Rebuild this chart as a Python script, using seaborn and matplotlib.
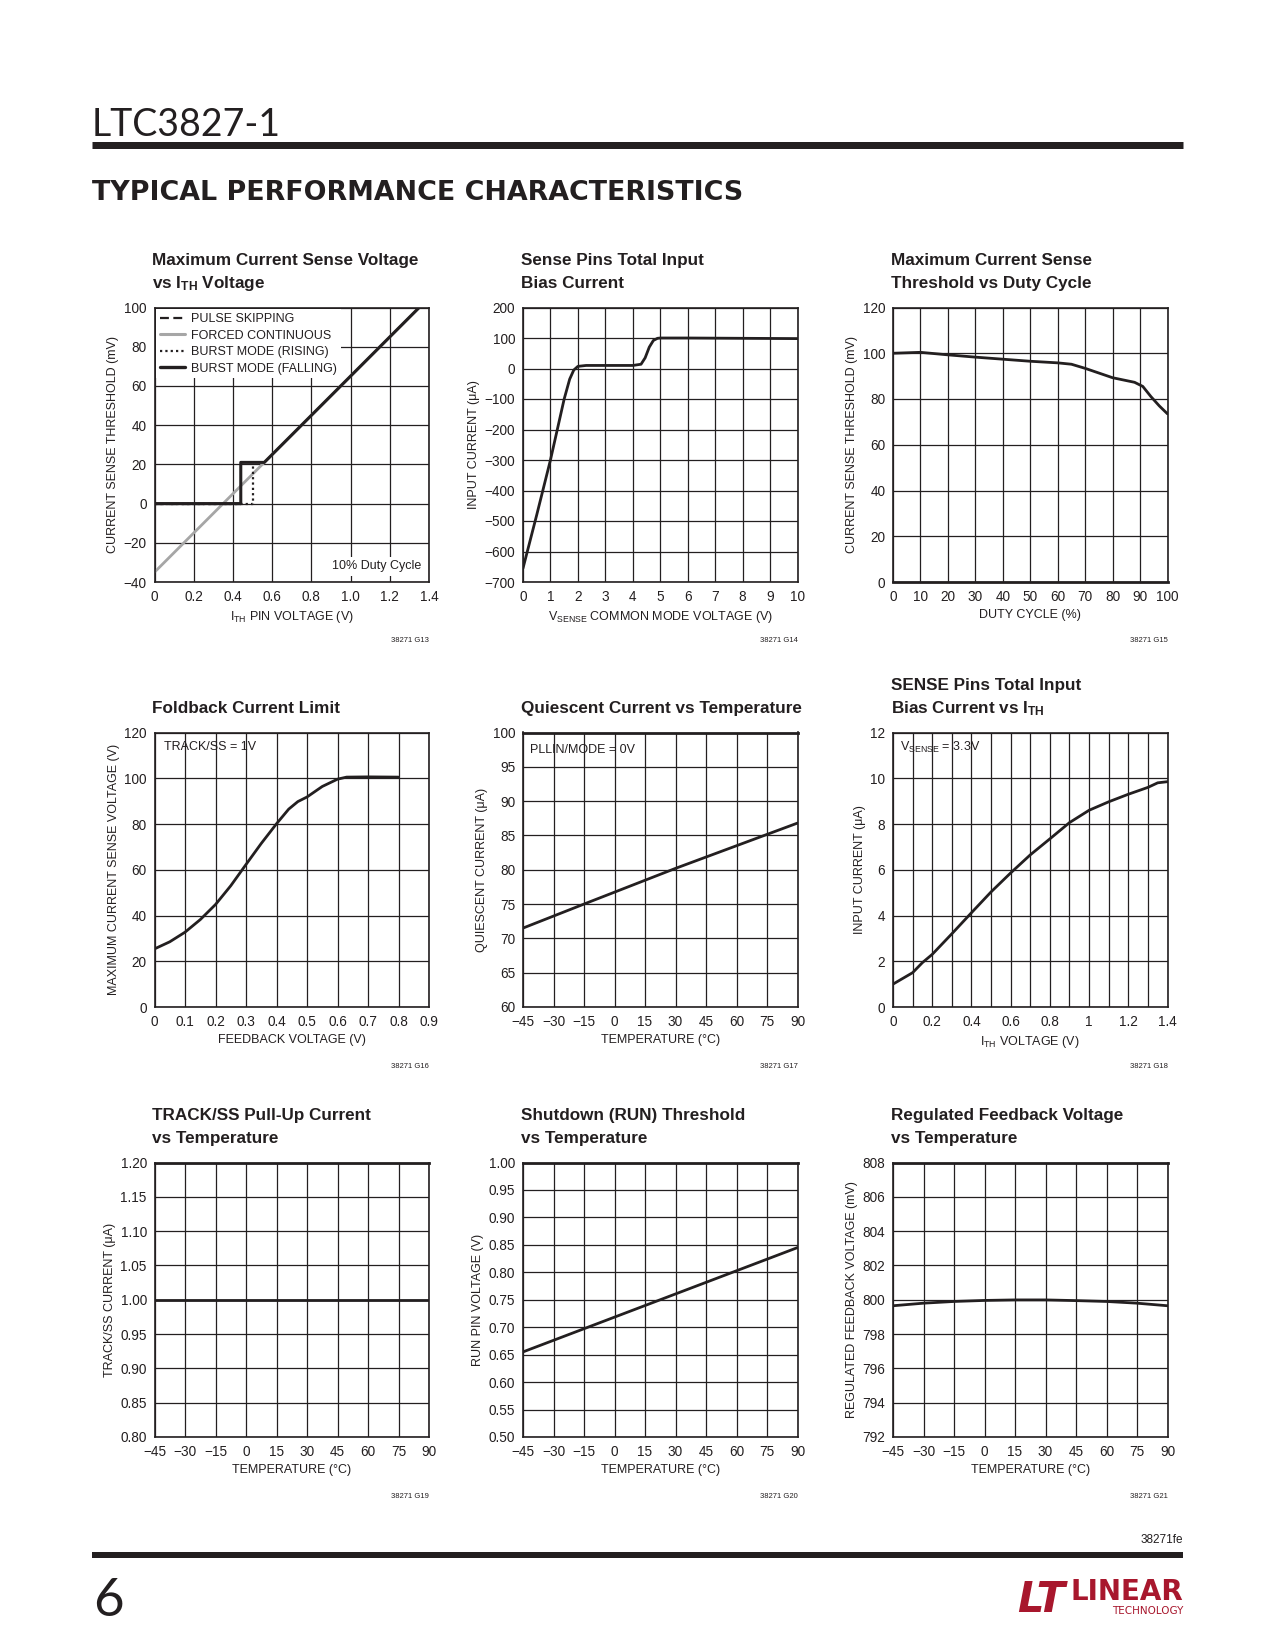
import matplotlib
matplotlib.use("Agg")
import matplotlib.pyplot as plt
from matplotlib.lines import Line2D
import seaborn as sns
import pandas as pd

# ---------------- data ----------------
# G13: max current sense voltage vs ITH
fc_x = [0.0, 1.35]
fc_y = [-35, 100]
ps_x = [0.0, 0.44]
ps_y = [0, 0]
rise_x = [0.0, 0.50, 0.50]
rise_y = [0, 0, 20]
fall_x = [0.0, 0.44, 0.44, 0.56, 1.35]
fall_y = [0, 0, 21, 21, 100]
g13_labels = ["PULSE SKIPPING", "FORCED CONTINUOUS", "BURST MODE (RISING)", "BURST MODE (FALLING)"]

# G14: sense pins input bias current vs common mode voltage
vcm = [0, 0.5, 1.0, 1.5, 1.7, 1.85, 2.0, 2.3, 3.0, 4.0, 4.3, 4.45, 4.6, 4.75, 4.9, 5.0, 6, 8, 10]
ibias = [-655, -480, -300, -100, -35, -5, 7, 10, 10, 10, 14, 35, 70, 92, 99, 100, 100, 99, 98]

# G15: max current sense threshold vs duty cycle
duty = [0, 10, 20, 30, 40, 50, 60, 65, 70, 80, 88, 91, 94, 97, 100]
thresh = [100, 100.4, 99.3, 98.3, 97.4, 96.5, 95.8, 95.2, 93.4, 89.3, 87.3, 85.5, 81, 77, 73.5]

# G16: foldback current limit
vfb = [0, 0.05, 0.1, 0.15, 0.2, 0.25, 0.3, 0.35, 0.4, 0.44, 0.47, 0.5, 0.55, 0.6, 0.63, 0.7, 0.8]
vsense_max = [25.4, 28.5, 32.7, 38.2, 44.8, 53, 62.3, 71.5, 80.1, 86.5, 89.8, 91.8, 96.4, 99.6, 100.5, 100.6, 100.5]

# G17: quiescent current vs temperature
temp_q = [-45, -15, 30, 90]
iq = [71.5, 75.0, 80.2, 86.8]

# G18: sense pins bias current vs ITH
ith_v = [0, 0.1, 0.15, 0.2, 0.3, 0.4, 0.5, 0.6, 0.7, 0.8, 0.9, 1.0, 1.1, 1.2, 1.3, 1.35, 1.4]
isense = [1.0, 1.5, 1.94, 2.3, 3.2, 4.12, 5.03, 5.86, 6.65, 7.35, 8.06, 8.6, 8.97, 9.3, 9.6, 9.8, 9.85]

# G19: TRACK/SS pull-up current vs temperature
temp_ss = [-45, 90]
iss = [1.0, 1.0]

# G20: RUN threshold vs temperature
temp_run = [-45, 90]
vrun = [0.655, 0.845]

# G21: regulated feedback voltage vs temperature
temp_fb = [-45, -30, -15, 0, 15, 30, 45, 60, 75, 90]
vreg = [799.65, 799.8, 799.9, 799.96, 799.99, 799.99, 799.95, 799.9, 799.8, 799.65]

M = "\u2212"
temp_ticks = [-45, -30, -15, 0, 15, 30, 45, 60, 75, 90]
temp_labels = [M + "45", M + "30", M + "15", "0", "15", "30", "45", "60", "75", "90"]

# ---------------- style ----------------
sns.set_theme(style="white")
BODY = "Liberation Sans"
plt.rcParams["font.family"] = [BODY, "DejaVu Sans"]
plt.rcParams["mathtext.fontset"] = "custom"
plt.rcParams["mathtext.rm"] = BODY
plt.rcParams["mathtext.default"] = "regular"

INK = "#231f20"
FS = 9.0       # axis label / note size
TKS = 9.8      # tick label size
TFS = 12.3     # chart title size
W, H = 1275, 1650
fig = plt.figure(figsize=(W / 100, H / 100), dpi=100)
fig.patch.set_facecolor("white")


def ftext(x, y, s, **kw):
    kw.setdefault("color", INK)
    return fig.text(x / W, 1 - y / H, s, **kw)


def hrule(y, x0, x1, px):
    fig.add_artist(Line2D([x0 / W, x1 / W], [1 - y / H] * 2, lw=px * 0.72, color=INK,
                          solid_capstyle="butt"))


col_left = [154.5, 523, 893]
row_top = [307.5, 732.5, 1162.5]
AW = AH = 274.5


def make_axes(r, c, title, xlabel, ylabel, code, xlim, ylim, xticks, xlabels, yticks, ylabels,
              minor_x=None, thick_top=False):
    l, t = col_left[c], row_top[r]
    ax = fig.add_axes([l / W, 1 - (t + AH) / H, AW / W, AH / H])
    ax.set_xlim(xlim)
    ax.set_ylim(ylim)
    ax.set_xticks(xticks, xlabels)
    ax.set_yticks(yticks, ylabels)
    if minor_x is not None:
        ax.set_xticks(minor_x, minor=True)
    ax.set_axisbelow(True)
    ax.grid(True, which="both", color=INK, lw=0.9)
    ax.tick_params(which="both", length=0, pad=5.5, labelsize=TKS, colors=INK)
    for s in ax.spines.values():
        s.set_color(INK)
        s.set_linewidth(1.2)
    if thick_top:
        ax.spines["top"].set_linewidth(2.0)
    ax.set_xlabel(xlabel, fontsize=FS, color=INK, labelpad=4.0)
    ax.set_ylabel(ylabel, fontsize=FS, color=INK, labelpad=3.5)
    # title lines, last line sits just above the frame
    lines = title.split("\n")
    for i, ln in enumerate(lines):
        yb = t - 19.5 - 23 * (len(lines) - 1 - i)
        ftext(l - 2, yb, ln, fontsize=TFS, fontweight="bold", va="baseline", ha="left")
    ftext(l + AW, t + AH + 59, code, fontsize=5.5, ha="right", va="center")
    return ax


def curve(ax, x, y, **kw):
    kw.setdefault("color", INK)
    kw.setdefault("linewidth", 2.0)
    sns.lineplot(x=x, y=y, ax=ax, estimator=None, sort=False, **kw)


def note(ax, x, y, s, **kw):
    ax.text(x, y, s, transform=ax.transAxes, va="center", fontsize=FS, color=INK, **kw)


# ---- G13 ----
ax = make_axes(0, 0, "Maximum Current Sense Voltage\nvs I$_{TH}$ Voltage",
               "I$_{TH}$ PIN VOLTAGE (V)", "CURRENT SENSE THRESHOLD (mV)", "38271 G13",
               (0, 1.4), (-40, 100), [0, 0.2, 0.4, 0.6, 0.8, 1.0, 1.2, 1.4],
               ["0", "0.2", "0.4", "0.6", "0.8", "1.0", "1.2", "1.4"],
               list(range(-40, 101, 20)), [M + "40", M + "20", "0", "20", "40", "60", "80", "100"])
curve(ax, fc_x, fc_y, color="#a6a6a6", linewidth=2.0)
curve(ax, ps_x, ps_y, linestyle=(0, (4, 2)), linewidth=1.6)
curve(ax, rise_x, rise_y, linestyle=(0, (1, 1.4)), linewidth=1.6)
curve(ax, fall_x, fall_y, linewidth=2.2)
handles = [Line2D([], [], color=INK, lw=1.6, ls=(0, (4, 2))),
           Line2D([], [], color="#a6a6a6", lw=2.2),
           Line2D([], [], color=INK, lw=1.6, ls=(0, (1, 1.4))),
           Line2D([], [], color=INK, lw=2.4)]
leg = ax.legend(handles, g13_labels, loc="upper left", fontsize=FS, frameon=True,
                facecolor="white", edgecolor="none", framealpha=1, fancybox=False,
                handlelength=2.0, handletextpad=0.5, labelspacing=0.36, borderpad=0.3,
                borderaxespad=0.15)
for tx in leg.get_texts():
    tx.set_color(INK)
ax.text(0.97, 0.035, "10% Duty Cycle", transform=ax.transAxes, ha="right", va="bottom",
        fontsize=FS, color=INK, bbox=dict(fc="white", ec="none", pad=2.5))

# ---- G14 ----
ax = make_axes(0, 1, "Sense Pins Total Input\nBias Current",
               "V$_{SENSE}$ COMMON MODE VOLTAGE (V)", "INPUT CURRENT (\u03bcA)", "38271 G14",
               (0, 10), (-700, 200), list(range(0, 11)), [str(v) for v in range(0, 11)],
               list(range(-700, 201, 100)),
               [(M + str(-v)) if v < 0 else str(v) for v in range(-700, 201, 100)])
curve(ax, vcm, ibias)

# ---- G15 ----
ax = make_axes(0, 2, "Maximum Current Sense\nThreshold vs Duty Cycle",
               "DUTY CYCLE (%)", "CURRENT SENSE THRESHOLD (mV)", "38271 G15",
               (0, 100), (0, 120), list(range(0, 101, 10)), [str(v) for v in range(0, 101, 10)],
               list(range(0, 121, 20)), [str(v) for v in range(0, 121, 20)])
curve(ax, duty, thresh)
ax.spines["bottom"].set_linewidth(2.0)

# ---- G16 ----
fb_ticks = [0, 0.1, 0.2, 0.3, 0.4, 0.5, 0.6, 0.7, 0.8, 0.9]
ax = make_axes(1, 0, "Foldback Current Limit", "FEEDBACK VOLTAGE (V)",
               "MAXIMUM CURRENT SENSE VOLTAGE (V)", "38271 G16",
               (0, 0.9), (0, 120), fb_ticks, ["0"] + [f"{v:.1f}" for v in fb_ticks[1:]],
               list(range(0, 121, 20)), [str(v) for v in range(0, 121, 20)])
curve(ax, vfb, vsense_max)
note(ax, 0.033, 0.948, "TRACK/SS = 1V")

# ---- G17 ----
ax = make_axes(1, 1, "Quiescent Current vs Temperature", "TEMPERATURE (\u00b0C)",
               "QUIESCENT CURRENT (\u03bcA)", "38271 G17",
               (-45, 90), (60, 100), temp_ticks, temp_labels,
               list(range(60, 101, 5)), [str(v) for v in range(60, 101, 5)], thick_top=True)
curve(ax, temp_q, iq)
note(ax, 0.026, 0.938, "PLLIN/MODE = 0V")

# ---- G18 ----
ax = make_axes(1, 2, "SENSE Pins Total Input\nBias Current vs I$_{TH}$", "I$_{TH}$ VOLTAGE (V)",
               "INPUT CURRENT (\u03bcA)", "38271 G18",
               (0, 1.4), (0, 12), [0, 0.2, 0.4, 0.6, 0.8, 1.0, 1.2, 1.4],
               ["0", "0.2", "0.4", "0.6", "0.8", "1", "1.2", "1.4"],
               list(range(0, 13, 2)), [str(v) for v in range(0, 13, 2)],
               minor_x=[0.1, 0.3, 0.5, 0.7, 0.9, 1.1, 1.3])
curve(ax, ith_v, isense)
note(ax, 0.026, 0.944, "V$_{SENSE}$ = 3.3V")

# ---- G19 ----
ss_ticks = [0.80, 0.85, 0.90, 0.95, 1.00, 1.05, 1.10, 1.15, 1.20]
ax = make_axes(2, 0, "TRACK/SS Pull-Up Current\nvs Temperature", "TEMPERATURE (\u00b0C)",
               "TRACK/SS CURRENT (\u03bcA)", "38271 G19",
               (-45, 90), (0.8, 1.2), temp_ticks, temp_labels,
               ss_ticks, [f"{v:.2f}" for v in ss_ticks], thick_top=True)
curve(ax, temp_ss, iss)

# ---- G20 ----
run_ticks = [0.50, 0.55, 0.60, 0.65, 0.70, 0.75, 0.80, 0.85, 0.90, 0.95, 1.00]
ax = make_axes(2, 1, "Shutdown (RUN) Threshold\nvs Temperature", "TEMPERATURE (\u00b0C)",
               "RUN PIN VOLTAGE (V)", "38271 G20",
               (-45, 90), (0.5, 1.0), temp_ticks, temp_labels,
               run_ticks, [f"{v:.2f}" for v in run_ticks], thick_top=True)
curve(ax, temp_run, vrun)

# ---- G21 ----
ax = make_axes(2, 2, "Regulated Feedback Voltage\nvs Temperature", "TEMPERATURE (\u00b0C)",
               "REGULATED FEEDBACK VOLTAGE (mV)", "38271 G21",
               (-45, 90), (792, 808), temp_ticks, temp_labels,
               list(range(792, 809, 2)), [str(v) for v in range(792, 809, 2)], thick_top=True)
curve(ax, temp_fb, vreg)

# ---------------- page furniture ----------------
ftext(92, 136, "LTC3827-1", fontsize=27, family=["Lato", "DejaVu Sans"], fontweight="normal",
      va="baseline")
hrule(144.5, 92, 1183, 7)
ftext(92, 200, "TYPICAL PERFORMANCE CHARACTERISTICS", fontsize=19.4,
      family=["DejaVu Sans"], fontweight="bold", va="baseline")
ftext(1183, 1540, "38271fe", fontsize=8.5, ha="right", va="center")
hrule(1555, 92, 1183, 6)
ftext(93, 1616, "6", fontsize=38, family=["Lato", "DejaVu Sans"], fontweight="normal",
      va="baseline")
RED = "#a8172d"
ftext(1017, 1612, "LT", fontsize=30, family=["DejaVu Sans"], fontweight="heavy",
      style="italic", color=RED, va="baseline")
ftext(1183, 1600, "LINEAR", fontsize=20, family=["DejaVu Sans"], fontweight="bold",
      color=RED, ha="right", va="baseline")
ftext(1183, 1614, "TECHNOLOGY", fontsize=7.5, family=["DejaVu Sans"], color=RED,
      ha="right", va="baseline")

fig.savefig("out.png", dpi=100, facecolor="white")
